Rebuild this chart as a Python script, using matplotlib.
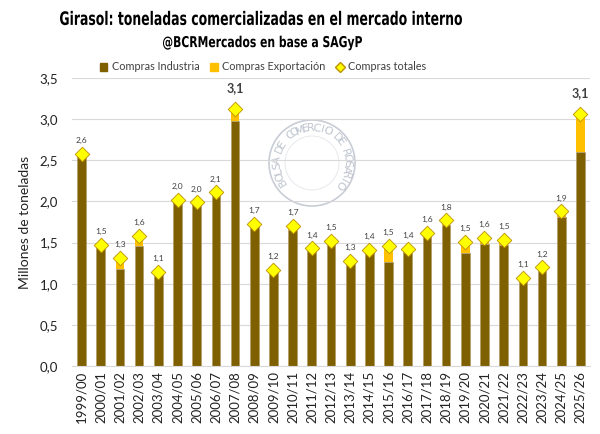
import numpy as np
import matplotlib
matplotlib.use("Agg")
import matplotlib.pyplot as plt
from matplotlib.lines import Line2D
from matplotlib.patches import Patch, Circle, PathPatch
from matplotlib.textpath import TextPath
from matplotlib.font_manager import FontProperties
from matplotlib.transforms import Affine2D

plt.rcParams['font.family'] = ['Lato', 'DejaVu Sans']

# datos (millones de toneladas)
campanas = ["1999/00", "2000/01", "2001/02", "2002/03", "2003/04", "2004/05", "2005/06",
            "2006/07", "2007/08", "2008/09", "2009/10", "2010/11", "2011/12", "2012/13",
            "2013/14", "2014/15", "2015/16", "2016/17", "2017/18", "2018/19", "2019/20",
            "2020/21", "2021/22", "2022/23", "2023/24", "2024/25", "2025/26"]
industria = [2.56, 1.45, 1.18, 1.46, 1.13, 2.01, 1.97, 2.10, 2.98, 1.70, 1.15, 1.65, 1.41, 1.50,
             1.26, 1.38, 1.26, 1.39, 1.60, 1.71, 1.37, 1.48, 1.47, 1.02, 1.15, 1.81, 2.60]
totales = [2.58, 1.47, 1.31, 1.58, 1.14, 2.02, 1.99, 2.11, 3.12, 1.73, 1.17, 1.70, 1.43, 1.52,
           1.28, 1.41, 1.46, 1.42, 1.62, 1.77, 1.51, 1.56, 1.53, 1.07, 1.20, 1.88, 3.06]
exportacion = [t - i for t, i in zip(totales, industria)]

c_ind = "#7F6000"
c_exp = "#FFC000"
c_tot = "#FFFF00"

fig = plt.figure(figsize=(6, 4.34), dpi=100)

# capa en pixeles para titulos y sello
ov = fig.add_axes([0, 0, 1, 1], zorder=0)
ov.set_xlim(0, 600)
ov.set_ylim(434, 0)
ov.axis("off")

ax = fig.add_axes([72/600, 1-366/434, 518/600, 288/434], zorder=1)
ax.patch.set_visible(False)

x = np.arange(len(campanas))
ax.bar(x, industria, width=0.45, color=c_ind, edgecolor="#B59F6A", linewidth=0.6, zorder=2)
ax.bar(x, exportacion, width=0.45, bottom=industria, color=c_exp, linewidth=0, zorder=2)
ax.scatter(x, totales, marker="D", s=55, color=c_tot, edgecolor="#BF9000", linewidth=0.6, zorder=3)

#etiquetas de datos
for xi, v in zip(x, totales):
    txt = f"{v:.1f}".replace(".", ",")
    if v >= 3:
        ax.annotate(txt, (xi, v), xytext=(0, 11), textcoords="offset points", ha="center",
                    va="bottom", fontsize=9, fontweight="bold", color="#404040")
    else:
        ax.annotate(txt, (xi, v), xytext=(0, 7), textcoords="offset points", ha="center",
                    va="bottom", fontsize=6, color="#404040")

ax.set_xlim(-0.5, len(campanas) - 0.5)
ax.set_ylim(0, 3.5)
ax.set_yticks(np.arange(0, 3.51, 0.5))
ax.set_yticklabels([f"{v:.1f}".replace(".", ",") for v in np.arange(0, 3.51, 0.5)])
ax.set_xticks(x)
ax.set_xticklabels(campanas, rotation=90)
ax.tick_params(axis="both", length=0, colors="#222222", labelsize=9.5)
ax.tick_params(axis="y", pad=10)
ax.grid(axis="y", color="#D9D9D9", linewidth=0.8, zorder=0)
for s in ["top", "right", "left"]:
    ax.spines[s].set_visible(False)
ax.spines["bottom"].set_color("#D9D9D9")
ax.set_ylabel("Millones de toneladas", fontsize=10, color="#222222", labelpad=6)

# titulos en letra condensada
def texto_condensado(s, cx, cy, size, ancho):
    fp = FontProperties(family="DejaVu Sans", weight="bold")
    tp = TextPath((0, 0), s, size=size, prop=fp)
    bb = tp.get_extents()
    sx = ancho / bb.width
    tr = Affine2D().translate(-bb.x0 - bb.width/2, -bb.y0 - bb.height/2).scale(sx, -1).translate(cx, cy)
    ov.add_patch(PathPatch(tr.transform_path(tp), color="black", lw=0))

texto_condensado("Girasol: toneladas comercializadas en el mercado interno", 261, 18, 18.5, 402)
texto_condensado("@BCRMercados en base a SAGyP", 262.5, 43, 15, 199)

handles = [Patch(color=c_ind, label="Compras Industria"),
           Patch(color=c_exp, label="Compras Exportación"),
           Line2D([], [], marker="D", color="none", markerfacecolor=c_tot,
                  markeredgecolor="#BF9000", markersize=5, label="Compras totales")]
fig.legend(handles=handles, loc="center", bbox_to_anchor=(263/600, 1-67/434), ncol=3,
           frameon=False, fontsize=7.8, handlelength=0.7, handleheight=0.7,
           handletextpad=0.4, columnspacing=1.0, labelcolor="#404040")

# sello de agua
cx, cy = 312, 163
ov.add_patch(Circle((cx, cy), 43, fill=False, edgecolor="#C8CDD6", linewidth=1.2))
ov.add_patch(Circle((cx, cy), 27, fill=False, edgecolor="#E2E5EA", linewidth=0.6))
sello = "BOLSA DE COMERCIO DE ROSARIO"
angs = np.linspace(212, -38, len(sello))
for ch, a in zip(sello, angs):
    r = 35
    px = cx + r*np.cos(np.radians(a))
    py = cy - r*np.sin(np.radians(a))
    ov.text(px, py, ch, ha="center", va="center", rotation=a-90, fontsize=8,
            color="#BFC5CF", family="DejaVu Sans")

fig.savefig("out.png", dpi=100)
